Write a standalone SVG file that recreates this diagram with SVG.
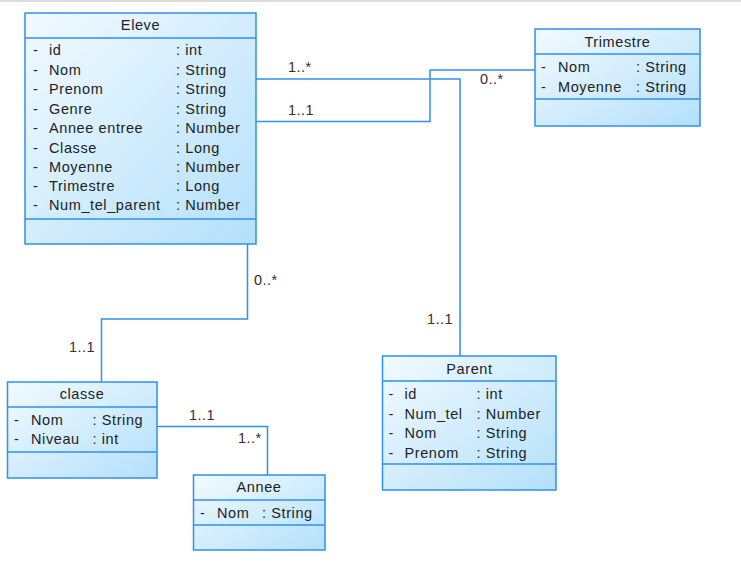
<svg xmlns="http://www.w3.org/2000/svg" width="741" height="565" viewBox="0 0 741 565">
<defs>
<linearGradient id="g" x1="0" y1="0" x2="1" y2="1">
<stop offset="0" stop-color="#F2FAFF"/>
<stop offset="1" stop-color="#B3E0FB"/>
</linearGradient>
<style>
.box{fill:url(#g);stroke:#2E90F0;stroke-width:1.5}
.div{stroke:#2E90F0;stroke-width:1.5}
.t{font-family:"Liberation Sans",Arial,sans-serif;font-size:14.5px;fill:#222;letter-spacing:0.6px}
.c{text-anchor:middle}
.con{fill:none;stroke:#2E90F0;stroke-width:1.5}
.m{font-family:"Liberation Sans",Arial,sans-serif;font-size:14.5px;fill:#3a2c2c;letter-spacing:0.5px}
</style>
</defs>
<rect x="0" y="0" width="741" height="565" fill="#fff"/>
<line x1="0" y1="1" x2="741" y2="1" stroke="#dcdcdc" stroke-width="2"/>

<g id="connectors">
<polyline class="con" points="256,79 460,79 460,356"/>
<polyline class="con" points="256,121.5 430,121.5 430,70 535,70"/>
<polyline class="con" points="247.5,244 247.5,319 101.5,319 101.5,382"/>
<polyline class="con" points="157,426.5 267.5,426.5 267.5,475"/>
<text class="m" x="288" y="72">1..*</text>
<text class="m" x="288" y="115">1..1</text>
<text class="m" x="480" y="84">0..*</text>
<text class="m" x="427" y="324">1..1</text>
<text class="m" x="254" y="285">0..*</text>
<text class="m" x="69" y="352">1..1</text>
<text class="m" x="189" y="420">1..1</text>
<text class="m" x="238" y="443">1..*</text>
</g>

<g id="Eleve">
<rect class="box" x="25" y="13" width="231" height="231"/>
<line class="div" x1="25" y1="38" x2="256" y2="38"/>
<line class="div" x1="25" y1="219" x2="256" y2="219"/>
<text class="t c" x="140.5" y="30">Eleve</text>
<g class="t">
<text x="33" y="55">-</text><text x="49" y="55">id</text><text x="176" y="55">: int</text>
<text x="33" y="75">-</text><text x="49" y="75">Nom</text><text x="176" y="75">: String</text>
<text x="33" y="94">-</text><text x="49" y="94">Prenom</text><text x="176" y="94">: String</text>
<text x="33" y="114">-</text><text x="49" y="114">Genre</text><text x="176" y="114">: String</text>
<text x="33" y="133">-</text><text x="49" y="133">Annee entree</text><text x="176" y="133">: Number</text>
<text x="33" y="153">-</text><text x="49" y="153">Classe</text><text x="176" y="153">: Long</text>
<text x="33" y="172">-</text><text x="49" y="172">Moyenne</text><text x="176" y="172">: Number</text>
<text x="33" y="191">-</text><text x="49" y="191">Trimestre</text><text x="176" y="191">: Long</text>
<text x="33" y="210">-</text><text x="49" y="210">Num_tel_parent</text><text x="176" y="210">: Number</text>
</g>
</g>

<g id="Trimestre">
<rect class="box" x="535" y="29" width="165" height="97"/>
<line class="div" x1="535" y1="54" x2="700" y2="54"/>
<line class="div" x1="535" y1="99" x2="700" y2="99"/>
<text class="t c" x="617.5" y="46.5">Trimestre</text>
<g class="t">
<text x="541" y="72">-</text><text x="558" y="72">Nom</text><text x="636" y="72">: String</text>
<text x="541" y="92">-</text><text x="558" y="92">Moyenne</text><text x="636" y="92">: String</text>
</g>
</g>

<g id="classe">
<rect class="box" x="7.5" y="382" width="149.5" height="96"/>
<line class="div" x1="7.5" y1="407" x2="157" y2="407"/>
<line class="div" x1="7.5" y1="452" x2="157" y2="452"/>
<text class="t c" x="82" y="398.5">classe</text>
<g class="t">
<text x="14" y="425">-</text><text x="31" y="425">Nom</text><text x="92.5" y="425">: String</text>
<text x="14" y="444">-</text><text x="31" y="444">Niveau</text><text x="92.5" y="444">: int</text>
</g>
</g>

<g id="Annee">
<rect class="box" x="193.5" y="475" width="131.5" height="75"/>
<line class="div" x1="193.5" y1="500" x2="325" y2="500"/>
<line class="div" x1="193.5" y1="525" x2="325" y2="525"/>
<text class="t c" x="259" y="492">Annee</text>
<g class="t">
<text x="200" y="518">-</text><text x="217" y="518">Nom</text><text x="262" y="518">: String</text>
</g>
</g>

<g id="Parent">
<rect class="box" x="382.5" y="356" width="173.5" height="134"/>
<line class="div" x1="382.5" y1="381" x2="556" y2="381"/>
<line class="div" x1="382.5" y1="464" x2="556" y2="464"/>
<text class="t c" x="469.5" y="373.5">Parent</text>
<g class="t">
<text x="388.5" y="399">-</text><text x="404.5" y="399">id</text><text x="476.5" y="399">: int</text>
<text x="388.5" y="419">-</text><text x="404.5" y="419">Num_tel</text><text x="476.5" y="419">: Number</text>
<text x="388.5" y="438">-</text><text x="404.5" y="438">Nom</text><text x="476.5" y="438">: String</text>
<text x="388.5" y="458">-</text><text x="404.5" y="458">Prenom</text><text x="476.5" y="458">: String</text>
</g>
</g>
</svg>
